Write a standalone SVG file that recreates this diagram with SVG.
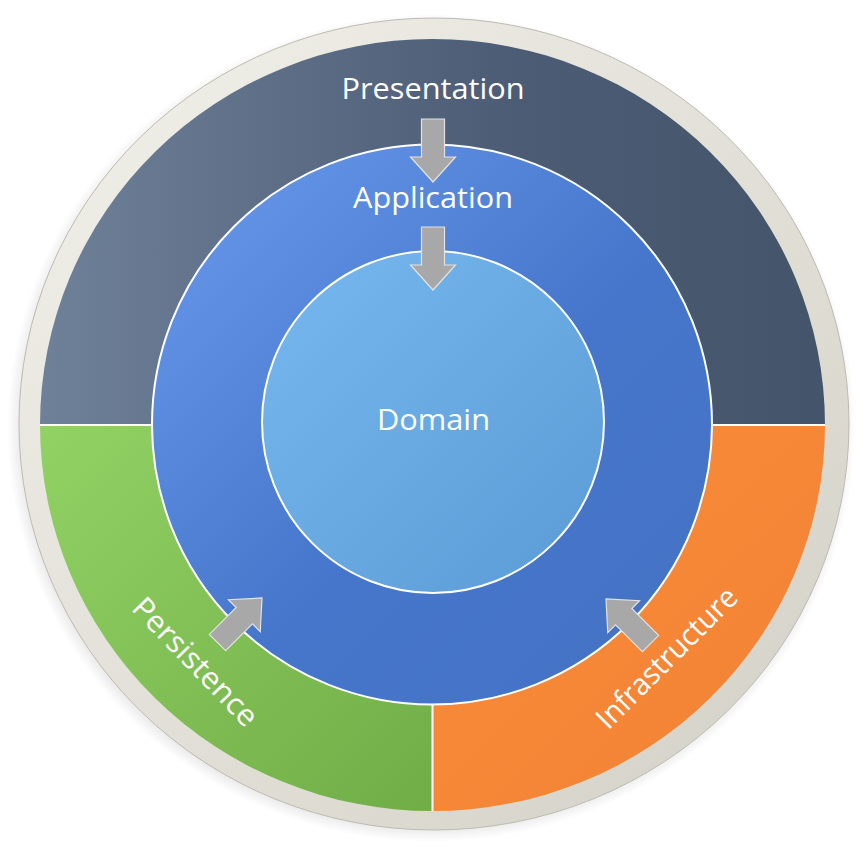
<svg xmlns="http://www.w3.org/2000/svg" width="868" height="854" viewBox="0 0 868 854">
  <defs>
    <linearGradient id="gRing" x1="0" y1="0" x2="1" y2="1">
      <stop offset="0" stop-color="#f1f0ea"/>
      <stop offset="1" stop-color="#d3d1c6"/>
    </linearGradient>
    <linearGradient id="gPres" x1="0" y1="0" x2="1" y2="0">
      <stop offset="0" stop-color="#6f8099"/>
      <stop offset="0.6" stop-color="#4c5c75"/>
      <stop offset="1" stop-color="#44546a"/>
    </linearGradient>
    <linearGradient id="gPers" x1="0" y1="0" x2="1" y2="1">
      <stop offset="0" stop-color="#92d264"/>
      <stop offset="1" stop-color="#70ad47"/>
    </linearGradient>
    <linearGradient id="gInfra" x1="0" y1="0" x2="1" y2="1">
      <stop offset="0" stop-color="#f88c3a"/>
      <stop offset="1" stop-color="#f28234"/>
    </linearGradient>
    <linearGradient id="gApp" x1="0" y1="0" x2="1" y2="1">
      <stop offset="0" stop-color="#6a9bed"/>
      <stop offset="0.55" stop-color="#4676cb"/>
      <stop offset="1" stop-color="#4472c4"/>
    </linearGradient>
    <linearGradient id="gDom" x1="0" y1="0" x2="1" y2="1">
      <stop offset="0" stop-color="#76b8f0"/>
      <stop offset="1" stop-color="#5b9bd5"/>
    </linearGradient>
    <radialGradient id="gShadow" cx="0.5" cy="0.5" r="0.5">
      <stop offset="0.9" stop-color="#000" stop-opacity="0.25"/>
      <stop offset="1" stop-color="#000" stop-opacity="0"/>
    </radialGradient>
    <path id="arrow" d="M-11.5,-63 H11.5 V-25 H22.5 L0,0 L-22.5,-25 H-11.5 Z"/>
  </defs>
  <style>
    .lbl { font-family: "Open Sans", "Noto Sans", "DejaVu Sans", sans-serif; fill: #ffffff; font-size: 30px; text-anchor: middle; }
    .sep { fill: none; stroke: #ffffff; stroke-width: 2; }
    .arr { fill: #a8a8a8; stroke: #e2e2e2; stroke-width: 1.2; }
  </style>

  <rect width="868" height="854" fill="#ffffff"/>

  <g id="frame">
    <ellipse cx="431" cy="428" rx="424" ry="414" fill="url(#gShadow)"/>
    <ellipse cx="434" cy="424" rx="415" ry="406" fill="url(#gRing)" stroke="#bdbbb1" stroke-width="1"/>
  </g>

  <g id="presentation">
    <path d="M40,425 A392.5,386 0 0 1 825,425 Z" fill="url(#gPres)"/>
    <text class="lbl" x="433" y="99" textLength="183" lengthAdjust="spacingAndGlyphs">Presentation</text>
  </g>

  <g id="persistence">
    <path d="M40,425 A392.5,386 0 0 0 432.5,811 V425 Z" fill="url(#gPers)"/>
    <text class="lbl" transform="translate(188,669) rotate(46)" x="0" y="0" textLength="166" lengthAdjust="spacingAndGlyphs">Persistence</text>
  </g>

  <g id="infrastructure">
    <path d="M432.5,425 V811 A392.5,386 0 0 0 825,425 Z" fill="url(#gInfra)"/>
    <text class="lbl" transform="translate(674,665) rotate(-45)" x="0" y="0" textLength="186" lengthAdjust="spacingAndGlyphs">Infrastructure</text>
  </g>

  <g id="separators">
    <path class="sep" d="M40,425 H825 M432.5,425 V811"/>
  </g>

  <g id="application">
    <circle cx="432" cy="424.5" r="280" fill="url(#gApp)" stroke="#ffffff" stroke-width="2"/>
    <text class="lbl" x="433" y="208" textLength="160" lengthAdjust="spacingAndGlyphs">Application</text>
  </g>

  <g id="domain">
    <circle cx="433" cy="422" r="171" fill="url(#gDom)" stroke="#ffffff" stroke-width="2"/>
    <text class="lbl" x="433.5" y="430" textLength="113" lengthAdjust="spacingAndGlyphs">Domain</text>
  </g>

  <g id="connectors">
    <use href="#arrow" class="arr" transform="translate(433,182)"/>
    <use href="#arrow" class="arr" transform="translate(433,290)"/>
    <use href="#arrow" class="arr" transform="translate(262,598) rotate(-135)"/>
    <use href="#arrow" class="arr" transform="translate(606,599) rotate(135)"/>
  </g>
</svg>
